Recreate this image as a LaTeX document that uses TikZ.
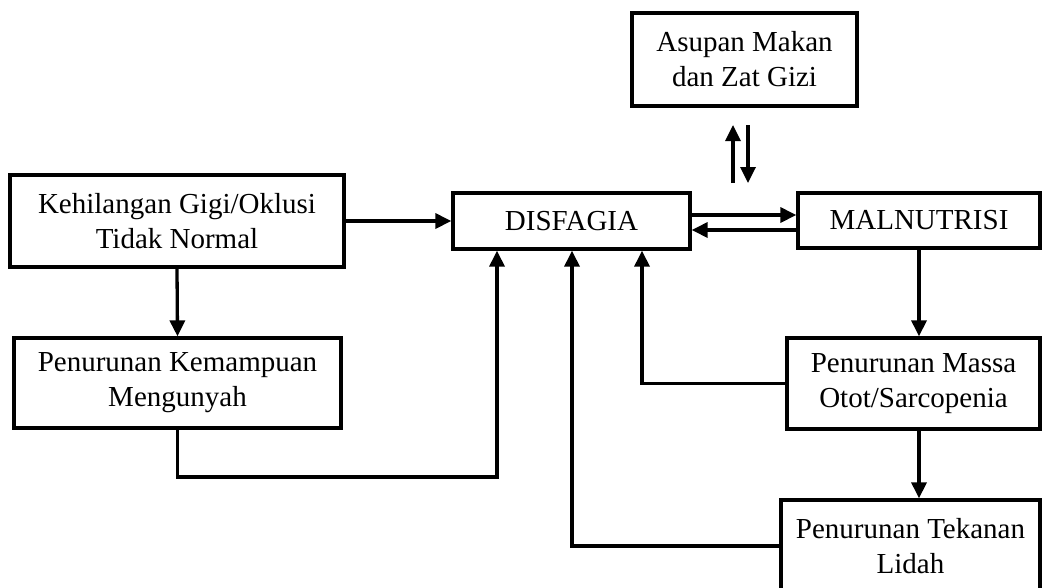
\documentclass[tikz,border=0pt]{standalone}
\usepackage{fontspec}
\setmainfont{Liberation Serif}
\usetikzlibrary{arrows.meta}
\begin{document}
\begin{tikzpicture}[x=1pt,y=-1pt,
  box/.style={draw=black,line width=3.3pt,rectangle,inner sep=0pt,align=center,
    font=\fontsize{29}{35}\selectfont},
  arr/.style={line width=3.3pt,-{Triangle[length=16pt,width=15pt]}}]
\useasboundingbox (0,0) rectangle (1044,587);
\node[box,minimum width=225pt,minimum height=93pt] (asupan) at (744.5,59.5) {Asupan Makan\\dan Zat Gizi};
\node[box,minimum width=334pt,minimum height=92pt] (kehil) at (177,221) {Kehilangan Gigi/Oklusi\\Tidak Normal};
\node[box,minimum width=237pt,minimum height=56pt] (disf) at (571.5,221) {DISFAGIA};
\node[box,minimum width=242pt,minimum height=55pt] (maln) at (919,220.5) {MALNUTRISI};
\node[box,minimum width=327pt,minimum height=90pt] (kemamp) at (177.5,383) {Penurunan Kemampuan\\Mengunyah};
\node[box,minimum width=253pt,minimum height=91pt] (massa) at (913.5,383.5) {Penurunan Massa\\Otot/Sarcopenia};
\node[box,minimum width=259pt,minimum height=92pt] (tekan) at (910.5,546) {Penurunan Tekanan\\Lidah};
% free arrows between Asupan and the row below
\coordinate (upA) at (733,183);
\coordinate (upB) at (733,125);
\coordinate (dnA) at (748,125);
\coordinate (dnB) at (748,183);
\draw[arr] (upA) -- (upB);
\draw[arr] (dnA) -- (dnB);
% connectors
\draw[arr] (kehil.east) -- (disf.west);
\draw[arr] (kehil.south) -- (kemamp.north);
\coordinate (k1) at (497,477);
\draw[arr] (kemamp.south) |- (k1) -- (k1 |- disf.south);
\draw[arr] ([yshift=6pt]disf.east) -- ([yshift=6pt]disf.east -| maln.west);
\draw[arr] ([yshift=-9pt]disf.east -| maln.west) -- ([yshift=-9pt]disf.east);
\draw[arr] (maln.south) -- (massa.north -| maln.south);
\coordinate (m1) at (642,383.5);
\draw[arr] (massa.west) -- (m1) -- (m1 |- disf.south);
\draw[arr] (massa.south -| maln.south) -- (tekan.north -| maln.south);
\coordinate (t1) at (572,546);
\draw[arr] (tekan.west) -- (t1) -- (t1 |- disf.south);
\end{tikzpicture}
\end{document}
